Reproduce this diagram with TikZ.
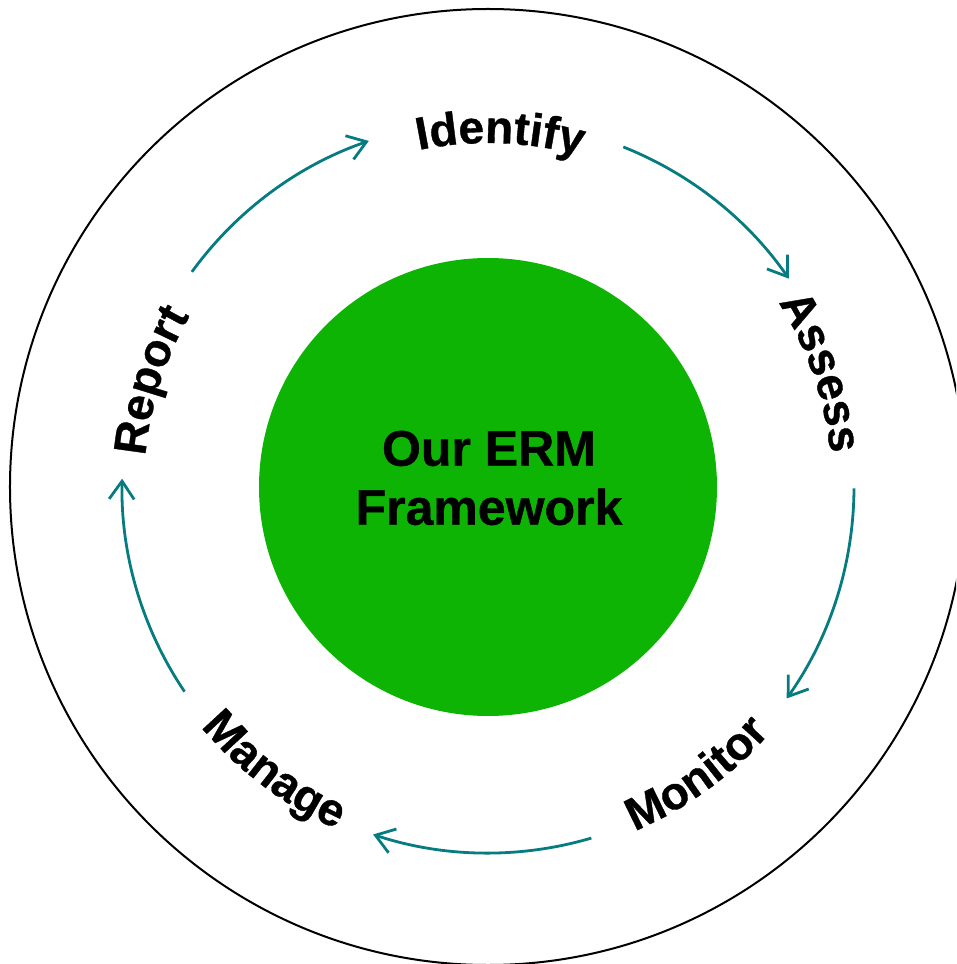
\documentclass[tikz,border=0pt]{standalone}
\usepackage{fontspec}
\setmainfont{Liberation Sans}[BoldFeatures={FakeBold=0.8}]
\usetikzlibrary{arrows.meta,decorations.text}
\definecolor{ermgreen}{HTML}{0DB403}
\definecolor{ermteal}{HTML}{067C80}
\newcommand\ermlab{\fontsize{46pt}{50pt}\selectfont\bfseries}
\begin{document}
\begin{tikzpicture}[
  cyclearrow/.style={draw=ermteal, line width=2.8pt, -{Straight Barb[length=18pt,width=25pt]}},
  ringline/.style={draw=black, line width=2pt},
  steptext/.style={decorate, decoration={text along path, text align=center, text={|\ermlab|#1}}}
]
\clip (-488pt,-477pt) rectangle (468pt,487pt);
% outer ring
\node (ring) [circle, ringline, minimum size=956pt, inner sep=0pt] at (0,0) {};
% core
\node (core) [circle, fill=ermgreen, minimum size=458pt, inner sep=0pt] at (0,0) {};
\node (coretext) [font=\fontsize{50pt}{59pt}\selectfont\bfseries, align=center, inner sep=0pt] at (1pt,9pt) {Our ERM\\Framework};

% curved labels (centred on their arcs)
\path[steptext=Identify] (118:344pt) arc[start angle=118, end angle=58, radius=344pt];
\path[steptext=Assess] (49:344pt) arc[start angle=49, end angle=-11, radius=344pt];
\path[steptext=Report] (192.5:344pt) arc[start angle=192.5, end angle=132.5, radius=344pt];
\path[steptext=Monitor] (-84:374pt) arc[start angle=-84, end angle=-24, radius=374pt];
\path[steptext=Manage] (-157:374pt) arc[start angle=-157, end angle=-97, radius=374pt];

% arrows
\coordinate (a1s) at (144:366pt);
\coordinate (a2s) at (68.3:366pt);
\coordinate (a3s) at (-0.2:366pt);
\coordinate (a4s) at (-73.6:366pt);
\coordinate (a5s) at (-146:366pt);
\draw[cyclearrow] (a1s) arc[start angle=144, end angle=109, radius=366pt];
\draw[cyclearrow] (a2s) arc[start angle=68.3, end angle=34.7, radius=366pt];
\draw[cyclearrow] (a3s) arc[start angle=-0.2, end angle=-35.3, radius=366pt];
\draw[cyclearrow] (a4s) arc[start angle=-73.6, end angle=-108.3, radius=366pt];
\draw[cyclearrow] (a5s) arc[start angle=-146, end angle=-181.3, radius=366pt];
\end{tikzpicture}
\end{document}
